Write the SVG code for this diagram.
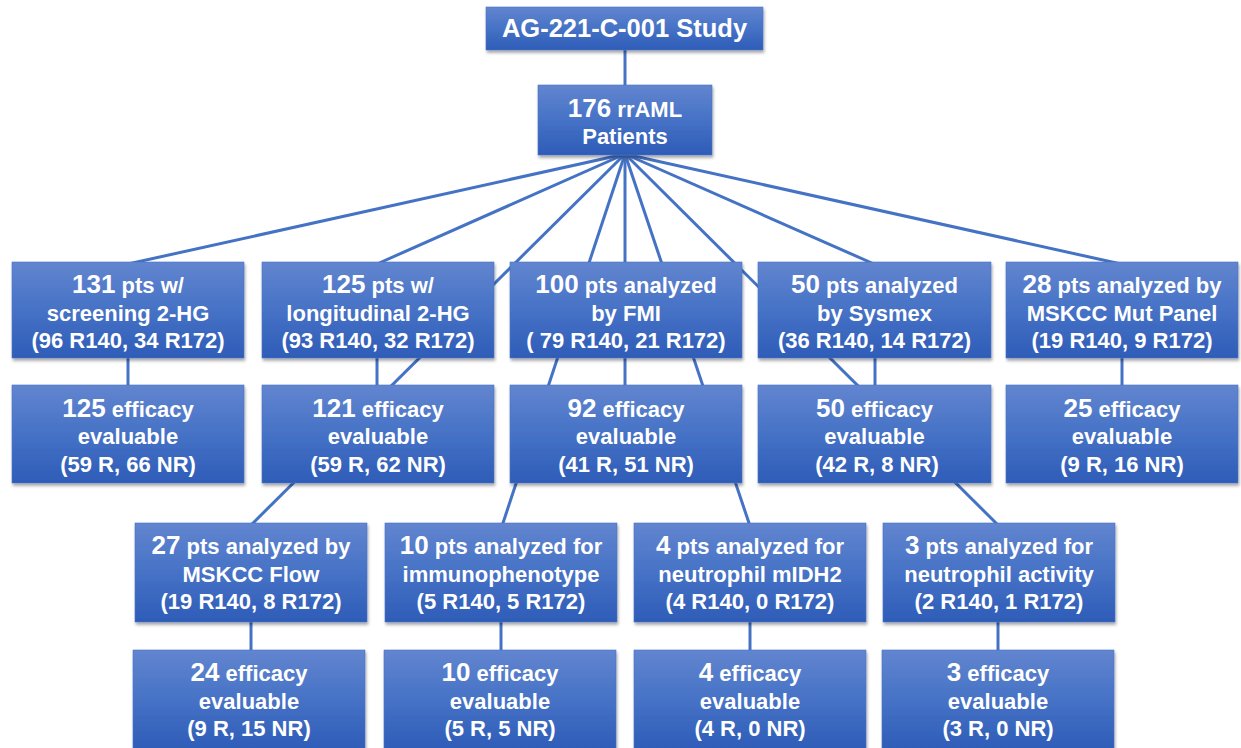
<svg xmlns="http://www.w3.org/2000/svg" width="1241" height="748" viewBox="0 0 1241 748">
<defs>
<linearGradient id="g" x1="0" y1="0" x2="0" y2="1">
<stop offset="0" stop-color="#6285cf"/>
<stop offset="0.5" stop-color="#4672c6"/>
<stop offset="1" stop-color="#2e5cb7"/>
</linearGradient>
<filter id="sh" x="-5%" y="-5%" width="112%" height="120%">
<feDropShadow dx="1" dy="2.5" stdDeviation="1.6" flood-color="#000" flood-opacity="0.35"/>
</filter>
</defs>
<style>
.box{fill:url(#g);stroke:#4a74c6;stroke-width:0.6;filter:url(#sh)}
.t{font-family:"Liberation Sans",Arial,sans-serif;font-weight:bold;font-size:22px;fill:#fff;text-anchor:middle}
.n{font-size:26px}
.ttl{font-size:25.5px}
.c{stroke:#4472c4;stroke-width:3;fill:none}
</style>
<rect width="1241" height="748" fill="#fff"/>
<g id="connectors">
<line class="c" x1="625" y1="48" x2="625" y2="88"/>
<line class="c" x1="625" y1="154" x2="128" y2="264"/>
<line class="c" x1="625" y1="154" x2="377" y2="264"/>
<line class="c" x1="625" y1="154" x2="250" y2="526"/>
<line class="c" x1="625" y1="154" x2="502" y2="526"/>
<line class="c" x1="625" y1="154" x2="625" y2="388"/>
<line class="c" x1="625" y1="154" x2="750" y2="526"/>
<line class="c" x1="625" y1="154" x2="999" y2="526"/>
<line class="c" x1="625" y1="154" x2="874" y2="264"/>
<line class="c" x1="625" y1="154" x2="1121" y2="264"/>
<line class="c" x1="128" y1="356" x2="128" y2="388"/>
<line class="c" x1="377" y1="356" x2="377" y2="388"/>
<line class="c" x1="875" y1="356" x2="875" y2="388"/>
<line class="c" x1="1122" y1="356" x2="1122" y2="388"/>
<line class="c" x1="251" y1="620" x2="251" y2="652"/>
<line class="c" x1="501" y1="620" x2="501" y2="652"/>
<line class="c" x1="750" y1="620" x2="750" y2="652"/>
<line class="c" x1="998" y1="620" x2="998" y2="652"/>
</g>
<g id="study">
<rect class="box" x="486" y="7" width="277" height="43"/>
<text class="t ttl" x="624.5" y="37">AG-221-C-001 Study</text>
</g>
<g id="patients">
<rect class="box" x="538" y="85" width="174" height="70"/>
<text class="t" x="625" y="117"><tspan class="n">176</tspan> rrAML</text>
<text class="t" x="625" y="144">Patients</text>
</g>
<g id="screening">
<rect class="box" x="12" y="262" width="232" height="96"/>
<text class="t" x="128" y="293"><tspan class="n">131</tspan> pts w/</text>
<text class="t" x="128" y="321">screening 2-HG</text>
<text class="t" x="128" y="348">(96 R140, 34 R172)</text>
</g>
<g id="longitudinal">
<rect class="box" x="262" y="262" width="232" height="96"/>
<text class="t" x="378" y="293"><tspan class="n">125</tspan> pts w/</text>
<text class="t" x="378" y="321">longitudinal 2-HG</text>
<text class="t" x="378" y="348">(93 R140, 32 R172)</text>
</g>
<g id="fmi">
<rect class="box" x="510" y="262" width="232" height="96"/>
<text class="t" x="626" y="293"><tspan class="n">100</tspan> pts analyzed</text>
<text class="t" x="626" y="321">by FMI</text>
<text class="t" x="626" y="348">( 79 R140, 21 R172)</text>
</g>
<g id="sysmex">
<rect class="box" x="758" y="262" width="233" height="96"/>
<text class="t" x="874.5" y="293"><tspan class="n">50</tspan> pts analyzed</text>
<text class="t" x="874.5" y="321">by Sysmex</text>
<text class="t" x="874.5" y="348">(36 R140, 14 R172)</text>
</g>
<g id="mutpanel">
<rect class="box" x="1006" y="262" width="232" height="96"/>
<text class="t" x="1122" y="293"><tspan class="n">28</tspan> pts analyzed by</text>
<text class="t" x="1122" y="321">MSKCC Mut Panel</text>
<text class="t" x="1122" y="348">(19 R140, 9 R172)</text>
</g>
<g id="eff-screening">
<rect class="box" x="12" y="385" width="232" height="98"/>
<text class="t" x="128" y="417"><tspan class="n">125</tspan> efficacy</text>
<text class="t" x="128" y="444">evaluable</text>
<text class="t" x="128" y="472">(59 R, 66 NR)</text>
</g>
<g id="eff-longitudinal">
<rect class="box" x="262" y="385" width="232" height="98"/>
<text class="t" x="378" y="417"><tspan class="n">121</tspan> efficacy</text>
<text class="t" x="378" y="444">evaluable</text>
<text class="t" x="378" y="472">(59 R, 62 NR)</text>
</g>
<g id="eff-fmi">
<rect class="box" x="510" y="385" width="232" height="98"/>
<text class="t" x="626" y="417"><tspan class="n">92</tspan> efficacy</text>
<text class="t" x="626" y="444">evaluable</text>
<text class="t" x="626" y="472">(41 R, 51 NR)</text>
</g>
<g id="eff-sysmex">
<rect class="box" x="758" y="385" width="233" height="98"/>
<text class="t" x="874.5" y="417"><tspan class="n">50</tspan> efficacy</text>
<text class="t" x="874.5" y="444">evaluable</text>
<text class="t" x="877" y="472">(42 R, 8 NR)</text>
</g>
<g id="eff-mutpanel">
<rect class="box" x="1006" y="385" width="232" height="98"/>
<text class="t" x="1122" y="417"><tspan class="n">25</tspan> efficacy</text>
<text class="t" x="1122" y="444">evaluable</text>
<text class="t" x="1122" y="472">(9 R, 16 NR)</text>
</g>
<g id="flow">
<rect class="box" x="135" y="523" width="232" height="99"/>
<text class="t" x="251" y="554"><tspan class="n">27</tspan> pts analyzed by</text>
<text class="t" x="251" y="582">MSKCC Flow</text>
<text class="t" x="251" y="609">(19 R140, 8 R172)</text>
</g>
<g id="immuno">
<rect class="box" x="385" y="523" width="232" height="99"/>
<text class="t" x="501" y="554"><tspan class="n">10</tspan> pts analyzed for</text>
<text class="t" x="501" y="582">immunophenotype</text>
<text class="t" x="501" y="609">(5 R140, 5 R172)</text>
</g>
<g id="mIDH2">
<rect class="box" x="634" y="523" width="232" height="99"/>
<text class="t" x="750" y="554"><tspan class="n">4</tspan> pts analyzed for</text>
<text class="t" x="750" y="582">neutrophil mIDH2</text>
<text class="t" x="750" y="609">(4 R140, 0 R172)</text>
</g>
<g id="activity">
<rect class="box" x="883" y="523" width="232" height="99"/>
<text class="t" x="999" y="554"><tspan class="n">3</tspan> pts analyzed for</text>
<text class="t" x="999" y="582">neutrophil activity</text>
<text class="t" x="999" y="609">(2 R140, 1 R172)</text>
</g>
<g id="eff-flow">
<rect class="box" x="133" y="650" width="232" height="100"/>
<text class="t" x="249" y="681"><tspan class="n">24</tspan> efficacy</text>
<text class="t" x="249" y="709">evaluable</text>
<text class="t" x="249" y="736">(9 R, 15 NR)</text>
</g>
<g id="eff-immuno">
<rect class="box" x="384" y="650" width="232" height="100"/>
<text class="t" x="500" y="681"><tspan class="n">10</tspan> efficacy</text>
<text class="t" x="500" y="709">evaluable</text>
<text class="t" x="500" y="736">(5 R, 5 NR)</text>
</g>
<g id="eff-mIDH2">
<rect class="box" x="634" y="650" width="232" height="100"/>
<text class="t" x="750" y="681"><tspan class="n">4</tspan> efficacy</text>
<text class="t" x="750" y="709">evaluable</text>
<text class="t" x="750" y="736">(4 R, 0 NR)</text>
</g>
<g id="eff-activity">
<rect class="box" x="882" y="650" width="232" height="100"/>
<text class="t" x="998" y="681"><tspan class="n">3</tspan> efficacy</text>
<text class="t" x="998" y="709">evaluable</text>
<text class="t" x="998" y="736">(3 R, 0 NR)</text>
</g>
</svg>
